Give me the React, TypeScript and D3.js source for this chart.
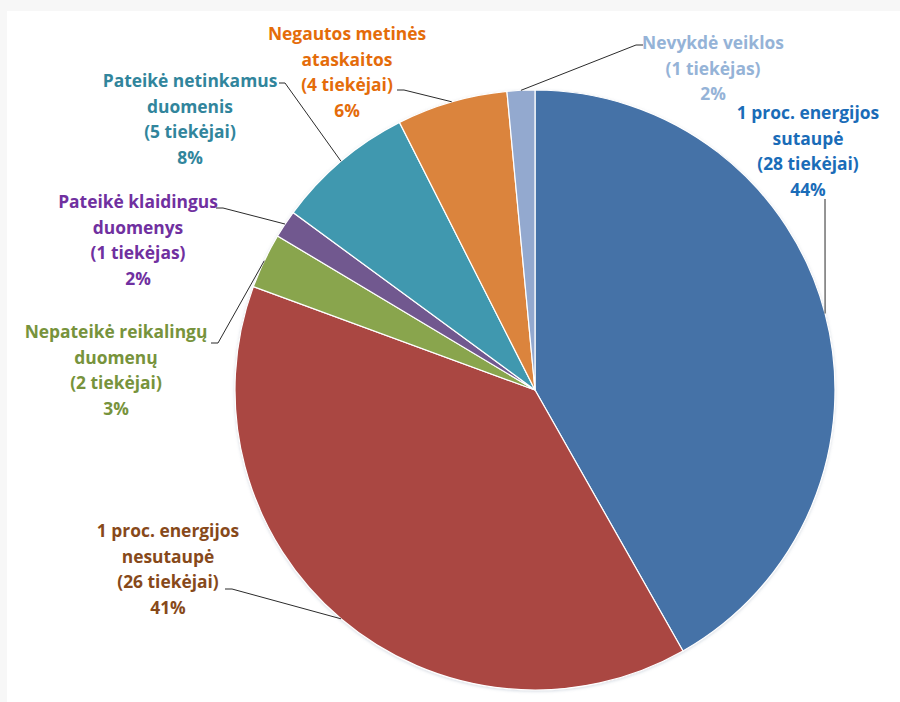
import React from 'react';
import * as d3 from 'd3';

// slice data, clockwise from 12 o'clock
const categories = [
  ['1 proc. energijos', 'sutaupė'],
  ['1 proc. energijos', 'nesutaupė'],
  ['Nepateikė reikalingų', 'duomenų'],
  ['Pateikė klaidingus', 'duomenys'],
  ['Pateikė netinkamus', 'duomenis'],
  ['Negautos metinės', 'ataskaitos'],
  ['Nevykdė veiklos'],
];
const suppliers = [28, 26, 2, 1, 5, 4, 1];
const supplierWord = ['tiekėjai', 'tiekėjai', 'tiekėjai', 'tiekėjas', 'tiekėjai', 'tiekėjai', 'tiekėjas'];
const percents = [44, 41, 3, 2, 8, 6, 2];

const sliceColors = ['#4572A7', '#AA4643', '#89A54E', '#71588F', '#4198AF', '#DB843D', '#93A9CF'];
const labelColors = ['#1a6cb8', '#87491a', '#77933C', '#7030A0', '#31859C', '#E46C0A', '#95B3D7'];

// label placement: text center x, first line y, leader start + elbow
const labelLayout = [
  { x: 808, y: 112, from: [825, 199], elbow: [825, 199] },
  { x: 168, y: 530, from: [225, 589], elbow: [232, 589] },
  { x: 116, y: 331, from: [211, 343], elbow: [218, 343] },
  { x: 138, y: 201, from: [216, 208], elbow: [223, 208] },
  { x: 190, y: 80, from: [279, 83], elbow: [285, 83] },
  { x: 347, y: 33, from: [397, 90], elbow: [404, 90] },
  { x: 713, y: 42, from: [643, 45], elbow: [636, 45] },
];

const W = 900;
const H = 702;
const cx = 535;
const cy = 390;
const R = 300;
const lineH = 25.7;

export default function App() {
  const pie = d3.pie<number>().sort(null).value((d) => d)(suppliers);
  const arc = d3.arc<d3.PieArcDatum<number>>().innerRadius(0).outerRadius(R);

  return (
    <svg width={W} height={H} style={{ position: 'absolute', left: 0, top: 0 }}
      fontFamily="'Open Sans', Lato, sans-serif">
      <defs>
        <filter id="shadow" x="-10%" y="-10%" width="120%" height="120%">
          <feDropShadow dx="0" dy="1" stdDeviation="1.5" floodColor="#8a9bb0" floodOpacity="0.35" />
        </filter>
      </defs>
      <rect x={0} y={0} width={W} height={H} fill="#f7f7f7" />
      <rect x={7} y={11} width={W - 7} height={H - 11} fill="#ffffff" />

      <g transform={`translate(${cx},${cy})`} filter="url(#shadow)">
        {pie.map((d, i) => (
          <path key={i} d={arc(d) || ''} fill={sliceColors[i]} stroke="#ffffff" strokeWidth={1.2} />
        ))}
      </g>

      {pie.map((d, i) => {
        const a = (d.startAngle + d.endAngle) / 2;
        const px = cx + R * Math.sin(a);
        const py = cy - R * Math.cos(a);
        const L = labelLayout[i];
        return (
          <polyline key={'l' + i}
            points={`${L.from[0]},${L.from[1]} ${L.elbow[0]},${L.elbow[1]} ${px},${py}`}
            fill="none" stroke="#2b2b2b" strokeWidth={1} />
        );
      })}

      {categories.map((lines, i) => {
        const L = labelLayout[i];
        const all = [...lines, `(${suppliers[i]} ${supplierWord[i]})`, `${percents[i]}%`];
        return (
          <text key={'t' + i} x={L.x} textAnchor="middle" fill={labelColors[i]}
            fontWeight="bold" fontSize={17.4}>
            {all.map((s, j) => (
              <tspan key={j} x={L.x} y={L.y + j * lineH} dominantBaseline="central">{s}</tspan>
            ))}
          </text>
        );
      })}
    </svg>
  );
}
